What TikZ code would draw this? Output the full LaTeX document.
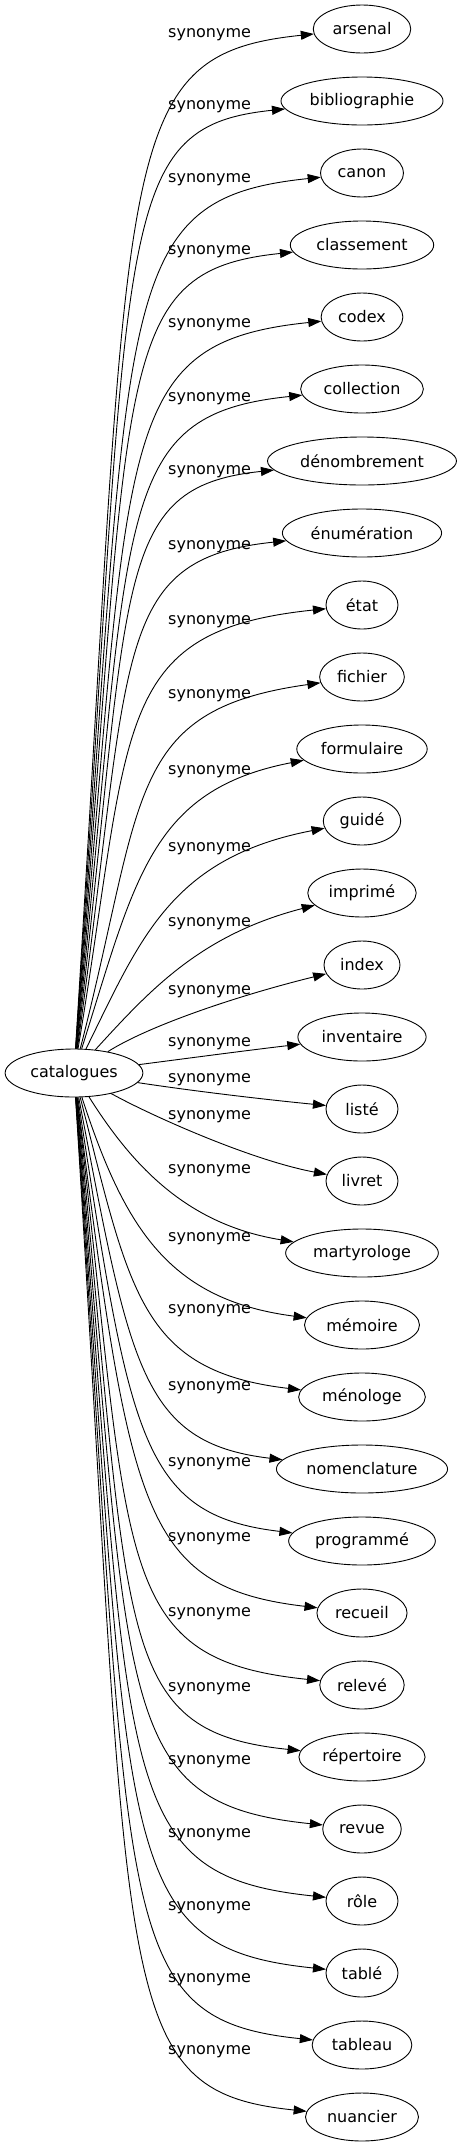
\documentclass[tikz,border=0pt]{standalone}
\usepackage{fontspec}
\setmainfont{DejaVu Sans}
\usetikzlibrary{shapes.geometric,arrows.meta}

\tikzset{
  word/.style={draw, ellipse, line width=0.9bp, inner xsep=5bp, inner ysep=2bp,
    minimum height=48bp, minimum width=72bp},
  syn/.style={draw, line width=0.9bp, -{Triangle[length=13bp,width=9bp]}},
  synlabel/.style={anchor=base west, inner sep=0pt}
}

\begin{document}
\begin{tikzpicture}[x=1bp, y=-1bp, font=\fontsize{16bp}{19bp}\selectfont]
  \useasboundingbox (0,0) rectangle (459,2147);
  \node[word] (cat) at (74,1073) {catalogues};
  % the thirty synonyms, one row each
  \foreach \w [count=\i from 0] in {arsenal, bibliographie, canon, classement, codex,
      collection, dénombrement, énumération, état, fichier, formulaire, guidé, imprimé,
      index, inventaire, listé, livret, martyrologe, mémoire, ménologe, nomenclature,
      programmé, recueil, relevé, répertoire, revue, rôle, tablé, tableau, nuancier}
    \node[word] (w\i) at (362,{29+72*\i}) {\w};
  % edges: controls (ax,ay) and (bx,by), label at ly
  \foreach \i/\ax/\ay/\bx/\by/\ly in {
      0/132/149/110/55/32.7, 1/132/221/110/127/105, 2/132/293/110/199/178.3,
      3/132/365/110/271/250, 4/132/437/110/343/323.3, 5/132/509/110/415/396.7,
      6/132/581/110/487/470, 7/132/653/110/559/545, 8/132/725/110/631/620,
      9/145/797/125/710/694, 10/135/880/150/790/770, 11/140/940/170/858/846.7,
      12/150/990/200/935/921.7, 13/150/1025/240/995/990, 14/190/1058/250/1050/1041.7,
      15/200/1092/270/1100/1078.3, 16/150/1115/250/1160/1115, 17/135/1170/190/1225/1169,
      18/125/1230/170/1300/1236.7, 19/130/1292/140/1371/1309.3, 20/130/1364/140/1443/1386,
      21/130/1436/140/1515/1462.5, 22/130/1508/140/1587/1537.3, 23/132/1565/110/1659/1611.7,
      24/132/1637/110/1731/1686.7, 25/132/1709/110/1803/1760, 26/132/1781/110/1875/1833.3,
      27/132/1853/110/1947/1906.3, 28/132/1925/110/2019/1978.3, 29/132/1997/110/2091/2050}
  {
    \draw[syn] (cat) .. controls (\ax,\ay) and (\bx,\by) .. (w\i);
    \node[synlabel] (lab\i) at (168,{\ly+4.4}) {synonyme};
  }
\end{tikzpicture}
\end{document}
